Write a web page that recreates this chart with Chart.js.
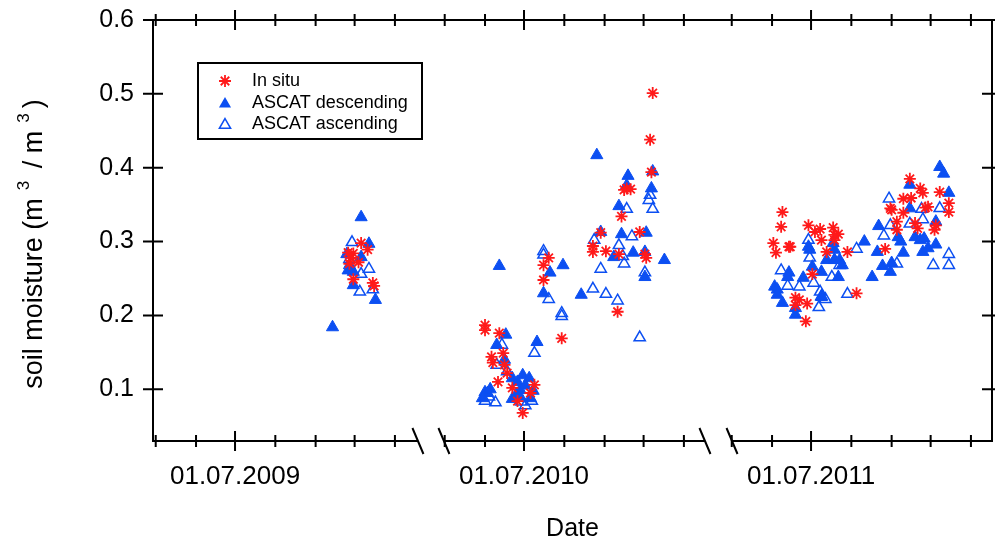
<!DOCTYPE html>
<html><head><meta charset="utf-8">
<script src="https://cdn.jsdelivr.net/npm/chart.js@4/dist/chart.umd.min.js"></script>
<style>html,body{margin:0;padding:0;background:#fff;overflow:hidden}#wrap{width:995px;height:544px;position:relative;overflow:hidden}</style>
</head><body><div id="wrap"><canvas id="c" width="1000" height="544"></canvas></div>
<script>
// ---------- data ----------
const seasonYears = [2009, 2010, 2011];
const majorTickLabels = ['01.07.2009', '01.07.2010', '01.07.2011'];
const yTickValues = [0.1, 0.2, 0.3, 0.4, 0.5, 0.6];
const yTickLabels = ['0.1', '0.2', '0.3', '0.4', '0.5', '0.6'];
const seriesNames = ['In situ', 'ASCAT descending', 'ASCAT ascending'];

const inSituDates = [
 '2009-10-06','2009-10-11','2009-09-26','2009-09-30','2009-09-28','2009-10-04','2009-09-27','2009-09-30','2009-10-15','2009-10-16',
 '2010-06-01','2010-06-01','2010-06-12','2010-06-06','2010-06-07','2010-06-15','2010-06-16','2010-06-18','2010-06-11','2010-06-22',
 '2010-07-09','2010-07-06','2010-06-26','2010-06-30','2010-07-30','2010-07-16','2010-07-16','2010-07-20','2010-08-29','2010-08-23',
 '2010-08-23','2010-09-02','2010-09-12','2010-09-14','2010-09-18','2010-09-21','2010-09-16','2010-09-11','2010-09-28','2010-10-02',
 '2010-10-03','2010-10-07','2010-10-06','2010-10-08',
 '2011-06-02','2011-06-04','2011-06-09','2011-06-08','2011-06-14','2011-06-15','2011-06-19','2011-06-22','2011-06-19','2011-06-28',
 '2011-06-27','2011-06-29','2011-07-04','2011-07-08','2011-07-09','2011-07-13','2011-07-02','2011-07-18','2011-07-22','2011-07-19',
 '2011-07-19','2011-07-29','2011-08-05','2011-08-27','2011-09-05','2011-09-05','2011-08-31','2011-09-01','2011-09-10','2011-09-10',
 '2011-09-16','2011-09-15','2011-09-19','2011-09-21','2011-09-23','2011-09-25','2011-09-27','2011-09-29','2011-10-05','2011-10-04',
 '2011-10-08','2011-10-15','2011-10-15'
];
const inSituValues = [
 0.298,0.289,0.285,0.284,0.278,0.272,0.270,0.249,0.244,0.240,
 0.187,0.180,0.176,0.144,0.136,0.149,0.133,0.122,0.110,0.102,
 0.106,0.095,0.084,0.068,0.169,0.248,0.268,0.278,0.312,0.294,
 0.286,0.287,0.283,0.334,0.372,0.371,0.370,0.205,0.313,0.283,
 0.278,0.394,0.438,0.501,
 0.298,0.285,0.340,0.320,0.293,0.293,0.224,0.221,0.214,0.216,
 0.192,0.322,0.313,0.317,0.302,0.286,0.256,0.319,0.310,0.309,
 0.302,0.286,0.230,0.290,0.327,0.316,0.345,0.343,0.339,0.358,
 0.359,0.385,0.325,0.318,0.372,0.366,0.346,0.347,0.322,0.316,
 0.367,0.352,0.340
];

const descDates = [
 '2009-09-14','2009-10-06','2009-10-12','2009-10-06','2009-09-25','2009-09-27','2009-09-26','2009-09-30','2009-09-30','2009-10-17',
 '2010-06-17','2010-06-10','2010-07-11','2010-06-16','2010-06-30','2010-07-05','2010-06-22','2010-06-26','2010-06-01','2010-06-03',
 '2010-05-30','2010-06-28','2010-06-22','2010-06-28','2010-07-06','2010-06-05','2010-07-02','2010-07-08','2010-06-25',
 '2010-06-12','2010-07-31','2010-07-21','2010-07-16','2010-08-14','2010-08-26','2010-09-19','2010-10-08','2010-09-18','2010-10-07',
 '2010-09-12','2010-08-29','2010-09-14','2010-10-03','2010-09-08','2010-09-23','2010-10-02','2010-10-17','2010-10-02',
 '2011-06-03','2011-06-05','2011-06-14','2011-06-13','2011-06-05','2011-06-09','2011-06-19','2011-06-19','2011-06-25','2011-06-29',
 '2011-06-30','2011-07-02','2011-07-09','2011-07-13','2011-07-09','2011-07-18','2011-07-19','2011-07-19','2011-07-23','2011-07-25',
 '2011-07-22','2011-08-11','2011-08-17','2011-08-21','2011-08-22','2011-08-25','2011-09-01','2011-08-31','2011-09-06','2011-09-08',
 '2011-09-10','2011-09-15','2011-09-15','2011-09-19','2011-09-23','2011-09-26','2011-09-25','2011-09-29','2011-10-05','2011-10-05',
 '2011-10-08','2011-10-11','2011-10-15'
];
const descValues = [
 0.184,0.333,0.297,0.279,0.283,0.268,0.261,0.259,0.241,0.221,
 0.174,0.160,0.164,0.140,0.119,0.115,0.115,0.110,0.096,0.095,
 0.088,0.099,0.087,0.090,0.088,0.100,0.105,0.098,0.093,
 0.267,0.268,0.258,0.230,0.228,0.417,0.389,0.395,0.376,0.372,
 0.348,0.313,0.310,0.312,0.279,0.285,0.286,0.275,0.252,
 0.239,0.235,0.258,0.252,0.228,0.217,0.210,0.201,0.251,0.293,
 0.289,0.266,0.259,0.275,0.225,0.298,0.289,0.275,0.275,0.268,
 0.252,0.300,0.252,0.286,0.321,0.267,0.271,0.259,0.306,0.300,
 0.285,0.345,0.377,0.306,0.302,0.304,0.286,0.291,0.327,0.296,
 0.401,0.392,0.366
];

const ascDates = [
 '2009-09-29','2009-10-06','2009-10-12','2009-10-05','2009-10-15','2009-09-27',
 '2010-06-14','2010-06-10','2010-06-18','2010-06-01','2010-06-09','2010-07-07','2010-06-29','2010-06-04','2010-07-02','2010-07-09',
 '2010-07-16','2010-07-16','2010-07-20','2010-07-30','2010-07-30','2010-08-23','2010-09-02','2010-09-11','2010-08-29','2010-08-24',
 '2010-09-12','2010-09-15','2010-09-16','2010-09-18','2010-09-22','2010-09-28','2010-10-02','2010-10-06','2010-10-05','2010-10-08',
 '2011-06-08','2011-06-13','2011-06-22','2011-06-29','2011-06-30','2011-07-03','2011-07-08','2011-07-09','2011-07-07','2011-07-12',
 '2011-07-19','2011-07-23','2011-07-17','2011-07-29','2011-08-05','2011-08-26','2011-08-30','2011-08-31','2011-09-05','2011-09-15',
 '2011-09-24','2011-09-25','2011-10-08','2011-10-15','2011-10-03','2011-10-15'
];
const ascValues = [
 0.299,0.256,0.263,0.232,0.235,0.276,
 0.160,0.133,0.124,0.084,0.082,0.084,0.083,0.090,0.078,0.149,
 0.287,0.282,0.222,0.203,0.199,0.236,0.229,0.220,0.263,0.302,
 0.295,0.280,0.270,0.344,0.307,0.170,0.258,0.363,0.356,0.344,
 0.261,0.240,0.239,0.302,0.278,0.244,0.232,0.226,0.211,0.222,
 0.275,0.268,0.252,0.229,0.290,0.308,0.358,0.322,0.270,0.324,
 0.344,0.330,0.345,0.283,0.268,0.268
];

// ---------- broken time axis (compressed day units) ----------
const FONT = '"Liberation Sans", Arial, sans-serif';
const X_MIN = 0, X_MAX = 645.4;
const julyAxis = [63.1, 285.4, 506.2];
const segBounds = [[0, 203.8], [223.8, 424.6], [445.4, 645.4]];
const DAY = 86400000;
function toAxis(s) {
  const p = s.split('-').map(Number);
  const k = seasonYears.indexOf(p[0]);
  return julyAxis[k] + (Date.UTC(p[0], p[1] - 1, p[2]) - Date.UTC(p[0], 6, 1)) / DAY;
}
function pts(dates, vals) { return dates.map((d, i) => ({x: toAxis(d), y: vals[i]})); }

const monthTicks = [];
const majorSet = {};
seasonYears.forEach((yr, k) => {
  for (let m = 4; m <= 10; m++) {
    const v = julyAxis[k] + (Date.UTC(yr, m, 1) - Date.UTC(yr, 6, 1)) / DAY;
    if (v >= segBounds[k][0] - 1 && v <= segBounds[k][1] + 1) {
      monthTicks.push(v);
      if (m === 6) majorSet[v.toFixed(2)] = majorTickLabels[k];
    }
  }
});

const RED = '#ff1a1a';
const BLUE = '#0c4ff2';

const framePlugin = {
  id: 'frame',
  afterDraw(chart) {
    const ctx = chart.ctx;
    const {left: L, right: R, top: T, bottom: B} = chart.chartArea;
    const xs = chart.scales.x, ys = chart.scales.y;
    ctx.save();
    ctx.strokeStyle = '#000';
    ctx.lineWidth = 2;
    ctx.lineCap = 'butt';
    ctx.beginPath();
    ctx.moveTo(L, T - 1); ctx.lineTo(L, B + 1);
    ctx.moveTo(R, T - 1); ctx.lineTo(R, B + 1);
    ctx.moveTo(L, T); ctx.lineTo(R, T);
    ctx.stroke();
    ctx.beginPath();
    segBounds.forEach((sb, k) => {
      const a = k === 0 ? L : xs.getPixelForValue(sb[0]);
      const b = k === segBounds.length - 1 ? R : xs.getPixelForValue(sb[1]);
      ctx.moveTo(a, B); ctx.lineTo(b, B);
    });
    ctx.stroke();
    ctx.beginPath();
    segBounds.forEach((sb, k) => {
      const ends = [];
      if (k > 0) ends.push(sb[0]);
      if (k < segBounds.length - 1) ends.push(sb[1]);
      ends.forEach(v => {
        const px = xs.getPixelForValue(v);
        ctx.moveTo(px - 5.5, B - 13); ctx.lineTo(px + 5.5, B + 13);
      });
    });
    ctx.stroke();
    ctx.beginPath();
    monthTicks.forEach(v => {
      const px = xs.getPixelForValue(v);
      const len = majorSet[v.toFixed(2)] ? 10 : 6;
      ctx.moveTo(px, B - len); ctx.lineTo(px, B + len);
      ctx.moveTo(px, T - len); ctx.lineTo(px, T + len);
    });
    yTickValues.forEach(v => {
      const py = ys.getPixelForValue(v);
      ctx.moveTo(L - 10, py); ctx.lineTo(L + 10, py);
      ctx.moveTo(R - 10, py); ctx.lineTo(R + 10, py);
    });
    ctx.stroke();

    // y-axis title with superscripts
    ctx.fillStyle = '#000';
    ctx.translate(33, 244);
    ctx.rotate(-Math.PI / 2);
    const big = '27px ' + FONT, sup = '17px ' + FONT;
    const parts = [
      {t: 'soil moisture (m', f: big, dy: 0, gap: 0},
      {t: '3', f: sup, dy: -13, gap: 8},
      {t: ' / m', f: big, dy: 0, gap: 5},
      {t: '3', f: sup, dy: -13, gap: 8},
      {t: ')', f: big, dy: 0, gap: 5}
    ];
    let total = 0;
    parts.forEach(p => { ctx.font = p.f; p.w = ctx.measureText(p.t).width; total += p.w + p.gap; });
    let cx = -total / 2;
    ctx.textBaseline = 'alphabetic';
    ctx.textAlign = 'left';
    parts.forEach(p => { cx += p.gap; ctx.font = p.f; ctx.fillText(p.t, cx, 9 + p.dy); cx += p.w; });
    ctx.restore();

    // legend box
    ctx.save();
    ctx.strokeStyle = '#000';
    ctx.lineWidth = 2;
    const lx = L + 45, ly = T + 43;
    ctx.strokeRect(lx, ly, 224, 76);
    const mx = lx + 27, tx = lx + 54;
    const rows = [ly + 18, ly + 40, ly + 61];
    ctx.strokeStyle = RED; ctx.lineWidth = 1.8;
    ctx.beginPath();
    for (let i = 0; i < 4; i++) {
      const a = i * Math.PI / 4, r = 6;
      ctx.moveTo(mx + Math.cos(a) * r, rows[0] + Math.sin(a) * r);
      ctx.lineTo(mx - Math.cos(a) * r, rows[0] - Math.sin(a) * r);
    }
    ctx.stroke();
    function tri(cy, r) {
      ctx.beginPath();
      for (let i = 0; i < 3; i++) {
        const a = i * 2 * Math.PI / 3;
        const px = mx + Math.sin(a) * r, py = cy - Math.cos(a) * r;
        if (i === 0) ctx.moveTo(px, py); else ctx.lineTo(px, py);
      }
      ctx.closePath();
    }
    tri(rows[1] + 1, 7); ctx.fillStyle = BLUE; ctx.fill();
    tri(rows[2] + 1, 6.5); ctx.strokeStyle = BLUE; ctx.lineWidth = 1.5; ctx.stroke();
    ctx.fillStyle = '#000';
    ctx.font = '18px ' + FONT;
    ctx.textBaseline = 'middle';
    ctx.textAlign = 'left';
    seriesNames.forEach((n, i) => ctx.fillText(n, tx, rows[i]));
    ctx.restore();
  }
};

new Chart(document.getElementById('c'), {
  type: 'scatter',
  data: {
    datasets: [
      {label: seriesNames[0], data: pts(inSituDates, inSituValues), pointStyle: 'star', pointRadius: 6,
       borderColor: RED, backgroundColor: RED, pointBorderWidth: 1.8},
      {label: seriesNames[1], data: pts(descDates, descValues), pointStyle: 'triangle', pointRadius: 7,
       borderColor: BLUE, backgroundColor: BLUE, pointBorderWidth: 1},
      {label: seriesNames[2], data: pts(ascDates, ascValues), pointStyle: 'triangle', pointRadius: 6.5,
       borderColor: BLUE, backgroundColor: 'rgba(255,255,255,0)', pointBorderWidth: 1.5}
    ]
  },
  options: {
    responsive: false,
    animation: false,
    events: [],
    layout: {padding: {top: 20, right: 0, bottom: 0, left: 0}},
    plugins: {legend: {display: false}, tooltip: {enabled: false}},
    scales: {
      x: {
        type: 'linear', min: X_MIN, max: X_MAX,
        grid: {display: false, drawTicks: false}, border: {display: false},
        afterBuildTicks: s => { s.ticks = monthTicks.map(v => ({value: v})); },
        ticks: {autoSkip: false, maxRotation: 0, minRotation: 0, padding: 20, color: '#000',
          font: {family: FONT, size: 26},
          callback: v => majorSet[Number(v).toFixed(2)] || ''},
        title: {display: true, text: 'Date', color: '#000', font: {family: FONT, size: 25}, padding: {top: 0, bottom: 0}},
        afterFit: s => { s.height = 103; s.paddingLeft = 0; s.paddingRight = 0; }
      },
      y: {
        min: 0.03, max: 0.6,
        grid: {display: false, drawTicks: false}, border: {display: false},
        afterBuildTicks: s => { s.ticks = yTickValues.map(v => ({value: v})); },
        ticks: {padding: 19, color: '#000', font: {family: FONT, size: 25},
          callback: v => yTickLabels[yTickValues.indexOf(v)]},
        afterFit: s => { s.width = 153; s.paddingTop = 0; s.paddingBottom = 0; }
      }
    }
  },
  plugins: [framePlugin]
});
</script></body></html>
